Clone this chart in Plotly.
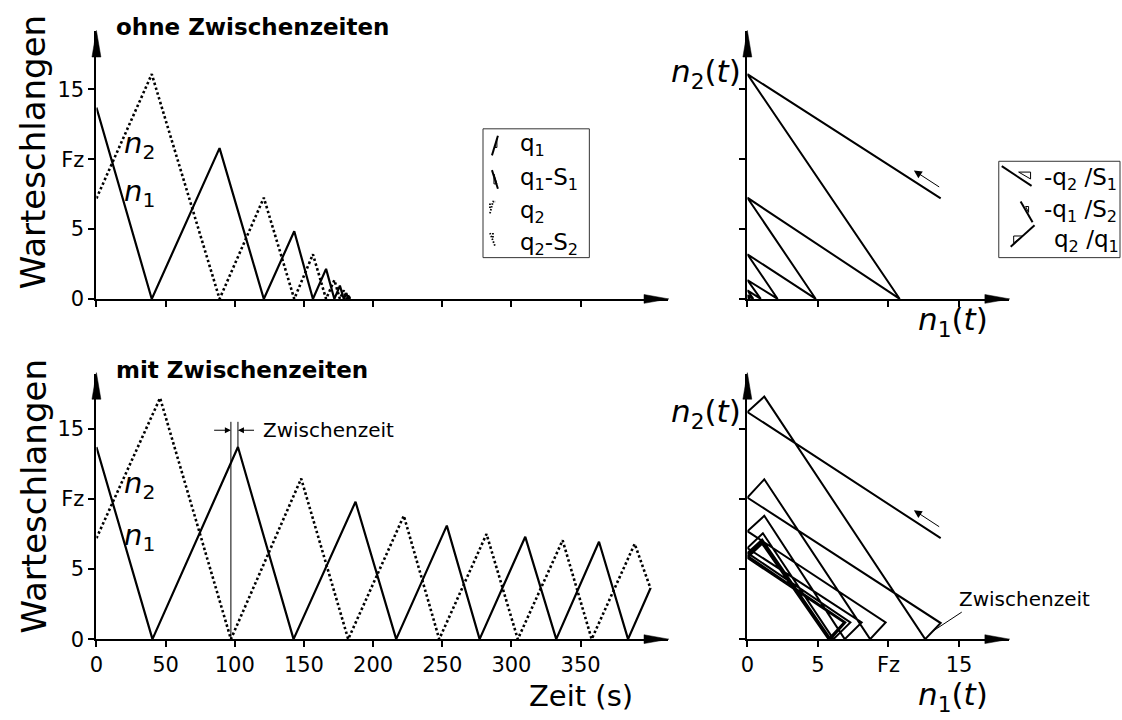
import plotly.graph_objects as go

W, H = 1122, 720
FONT = "DejaVu Sans"

# ---------------- data ----------------
# ohne Zwischenzeiten: switching instants (s), queues at those instants
t_top = [0, 40, 89, 121, 143, 156.5, 166, 172, 176, 178.8, 180.7, 181.9, 182.7, 183.3]
n1_top = [13.7, 0, 10.8, 0, 4.85, 0, 2.15, 0, 0.95, 0, 0.42, 0, 0.19, 0]
n2_top = [7.2, 16.1, 0, 7.25, 0, 3.2, 0, 1.35, 0, 0.62, 0, 0.27, 0, 0.12]

# mit Zwischenzeiten: vertices of each queue
t_n1_b = [0, 40.5, 102.3, 142.5, 187.3, 216.7, 253.3, 277, 310, 332.4, 363.3, 384.3, 400.6]
n1_b = [13.7, 0, 13.7, 0, 9.8, 0, 8.1, 0, 7.3, 0, 6.95, 0, 3.65]
t_n2_b = [0, 46, 97.2, 148, 182, 222.2, 247.8, 282, 304.6, 337, 358, 389.1, 400.6]
n2_b = [7.2, 17.2, 0, 11.45, 0, 8.8, 0, 7.5, 0, 7.05, 0, 6.8, 3.6]

# phase portrait with Zwischenzeiten (vertices n1, n2)
ph_n1 = [13.7, 0, 1.2, 12.6, 13.7, 0, 1.2, 8.7, 9.8, 0, 1.2, 6.9, 8.1, 0, 1.1, 6.1, 7.3,
         0, 1.05, 5.9, 6.95, 0, 1.05, 5.8, 6.9, 0, 1.05, 5.75, 6.85, 0, 1.05, 5.75, 6.85, 0]
ph_n2 = [7.2, 16.2, 17.3, 0, 1.15, 10.1, 11.4, 0, 1.2, 7.7, 8.8, 0, 1.2, 6.5, 7.55, 0, 1.2,
         6.15, 7.1, 0, 1.2, 5.95, 6.95, 0, 1.2, 5.85, 6.85, 0, 1.2, 5.8, 6.8, 0, 1.2, 5.8]

time_ticks = [0, 50, 100, 150, 200, 250, 300, 350]
time_ticklabels = ["0", "50", "100", "150", "200", "250", "300", "350"]
queue_ticks = [0, 5, 10, 15]
queue_ticklabels = ["0", "5", "Fz", "15"]

# ---------------- layout geometry (pixels) ----------------
def px(x):
    return x / W

def py(y):
    return 1 - y / H

X_LEFT = (90, 665)
X_RIGHT = (745, 1008)
Y_TOP = (304, 32)
Y_BOT = (650, 380)
TIME_MAX = (X_LEFT[1] - X_LEFT[0]) / 1.392
N1_MAX = (X_RIGHT[1] - X_RIGHT[0]) / 14.2
YTOP_MAX = (Y_TOP[0] - Y_TOP[1]) / 14.2
YBOT_MAX = (Y_BOT[0] - Y_BOT[1]) / 14.26

fig = go.Figure()

solid = dict(color="black", width=2.2)
dotted = dict(color="black", width=2.6, dash="2.5px,2.5px")

fig.add_trace(go.Scatter(x=t_top, y=n1_top, mode="lines", line=solid, xaxis="x", yaxis="y"))
fig.add_trace(go.Scatter(x=t_top, y=n2_top, mode="lines", line=dotted, xaxis="x", yaxis="y"))
fig.add_trace(go.Scatter(x=n1_top, y=n2_top, mode="lines", line=dict(color="black", width=2), xaxis="x2", yaxis="y2"))
fig.add_trace(go.Scatter(x=t_n1_b, y=n1_b, mode="lines", line=solid, xaxis="x3", yaxis="y3"))
fig.add_trace(go.Scatter(x=t_n2_b, y=n2_b, mode="lines", line=dotted, xaxis="x3", yaxis="y3"))
fig.add_trace(go.Scatter(x=ph_n1, y=ph_n2, mode="lines", line=dict(color="black", width=2), xaxis="x4", yaxis="y4"))

def axis(domain, rng, **kw):
    d = dict(domain=domain, range=rng, showline=True, linecolor="black", linewidth=2,
             ticks="outside", ticklen=6, tickwidth=2, tickcolor="black",
             showgrid=False, zeroline=False, fixedrange=True,
             tickfont=dict(family=FONT, size=21, color="black"))
    d.update(kw)
    return d

xl = [px(X_LEFT[0]), px(X_LEFT[1])]
xr = [px(X_RIGHT[0]), px(X_RIGHT[1])]
yt = [py(Y_TOP[0]), py(Y_TOP[1])]
yb = [py(Y_BOT[0]), py(Y_BOT[1])]

fig.update_layout(
    width=W, height=H, margin=dict(l=0, r=0, t=0, b=0),
    paper_bgcolor="white", plot_bgcolor="white", showlegend=False,
    font=dict(family=FONT, color="black"),
    xaxis=axis(xl, [0, TIME_MAX], anchor="y", tickvals=time_ticks, showticklabels=False),
    yaxis=axis(yt, [0, YTOP_MAX], anchor="x", tickvals=queue_ticks, ticktext=queue_ticklabels),
    xaxis2=axis(xr, [0, N1_MAX], anchor="y2", tickvals=queue_ticks, showticklabels=False),
    yaxis2=axis(yt, [0, YTOP_MAX], anchor="x2", tickvals=queue_ticks, showticklabels=False),
    xaxis3=axis(xl, [0, TIME_MAX], anchor="y3", tickvals=time_ticks, ticktext=time_ticklabels),
    yaxis3=axis(yb, [0, YBOT_MAX], anchor="x3", tickvals=queue_ticks, ticktext=queue_ticklabels),
    xaxis4=axis(xr, [0, N1_MAX], anchor="y4", tickvals=queue_ticks, ticktext=queue_ticklabels),
    yaxis4=axis(yb, [0, YBOT_MAX], anchor="x4", tickvals=queue_ticks, showticklabels=False),
)

ann = []
shapes = []

def path(points, close=False):
    s = "M" + " L".join("%.5f,%.5f" % (px(x), py(y)) for x, y in points)
    return s + (" Z" if close else "")

def pshape(points, width=1.5, close=False, dash=None, fill=None):
    ln = dict(color="black", width=width)
    if dash:
        ln["dash"] = dash
    d = dict(type="path", xref="paper", yref="paper", path=path(points, close), line=ln)
    if fill:
        d["fillcolor"] = fill
    shapes.append(d)

# axis arrowheads (long, narrow, filled)
for (x0, x1), (y0, y1) in [(X_LEFT, Y_TOP), (X_RIGHT, Y_TOP), (X_LEFT, Y_BOT), (X_RIGHT, Y_BOT)]:
    pshape([(x1 + 1, y0), (x1 - 24, y0 - 4.5), (x1 - 24, y0 + 4.5)], 0.5, close=True, fill="black")
    pshape([(x0, y1 - 1), (x0 - 4.5, y1 + 26), (x0 + 4.5, y1 + 26)], 0.5, close=True, fill="black")

def text(x, y, s, size=20, xanchor="left", yanchor="middle", **kw):
    d = dict(x=px(x), y=py(y), xref="paper", yref="paper", text=s, showarrow=False,
             xanchor=xanchor, yanchor=yanchor, font=dict(family=FONT, size=size, color="black"))
    d.update(kw)
    ann.append(d)

# titles
text(108, 27, "<b>ohne Zwischenzeiten</b>", size=23)
text(108, 376, "<b>mit Zwischenzeiten</b>", size=23)
# y titles
text(27, 155, "Warteschlangen", size=34, xanchor="center", textangle=-90)
text(27, 505, "Warteschlangen", size=34, xanchor="center", textangle=-90)
# x title
text(578, 708, "Zeit (s)", size=29, xanchor="center")

# curve labels
for xa, ya, y2, y1 in [("x", "y", 11.0, 7.6), ("x3", "y3", 11.0, 7.3)]:
    for yy, k in [(y2, "2"), (y1, "1")]:
        ann.append(dict(x=31, y=yy, xref=xa, yref=ya, text="<i>n</i><sub>%s</sub>" % k,
                        showarrow=False, xanchor="center", yanchor="middle",
                        font=dict(family=FONT, size=29, color="black")))

# phase axis labels
for ytxt_n2, ytxt_n1 in [(75, 327), (421, 708)]:
    text(741, ytxt_n2, "<i>n</i><sub>2</sub>(<i>t</i>)", size=31, xanchor="right")
    text(952, ytxt_n1, "<i>n</i><sub>1</sub>(<i>t</i>)", size=31, xanchor="center")

# direction arrows in phase portraits
for xa, ya in [("x2", "y2"), ("x4", "y4")]:
    ann.append(dict(x=11.8, y=9.2, ax=13.7, ay=7.95, xref=xa, yref=ya, axref=xa, ayref=ya,
                    text="", showarrow=True, arrowhead=2, arrowsize=1.6, arrowwidth=1,
                    arrowcolor="black", standoff=0))

# Zwischenzeit marker (time plot)
t_green_end = t_n2_b[2]
t_peak = t_n1_b[2]
marker_y = 14.9
shapes.append(dict(type="line", xref="x3", yref="y3", x0=t_green_end, x1=t_green_end, y0=0, y1=15.5,
                   line=dict(color="black", width=1)))
shapes.append(dict(type="line", xref="x3", yref="y3", x0=t_peak, x1=t_peak, y0=n1_b[2], y1=15.5,
                   line=dict(color="black", width=1)))
ann.append(dict(x=t_green_end, y=marker_y, ax=84, ay=marker_y, xref="x3", yref="y3", axref="x3", ayref="y3",
                text="", showarrow=True, arrowhead=2, arrowsize=1.2, arrowwidth=1, arrowcolor="black", standoff=0))
ann.append(dict(x=t_peak, y=marker_y, ax=115, ay=marker_y, xref="x3", yref="y3", axref="x3", ayref="y3",
                text="", showarrow=True, arrowhead=2, arrowsize=1.2, arrowwidth=1, arrowcolor="black", standoff=0))
ann.append(dict(x=119, y=marker_y, xref="x3", yref="y3", text="Zwischenzeit", showarrow=False,
                xanchor="left", yanchor="middle", font=dict(family=FONT, size=20, color="black")))

# Zwischenzeit leader (phase plot)
mx = (ph_n1[3] + ph_n1[4]) / 2
my = (ph_n2[3] + ph_n2[4]) / 2
ann.append(dict(x=mx, y=my, ax=15.3, ay=2.0, xref="x4", yref="y4", axref="x4", ayref="y4",
                text="", showarrow=True, arrowhead=0, arrowwidth=1, arrowcolor="black", standoff=0))
text(956, 609, "Zwischenzeit", size=20)

# ---------------- legends ----------------
# left legend box
shapes.append(dict(type="rect", xref="paper", yref="paper", x0=px(479), x1=px(586), y0=py(262), y1=py(131),
                   line=dict(color="#333333", width=1)))
leg_left = ["q<sub>1</sub>", "q<sub>1</sub>-S<sub>1</sub>", "q<sub>2</sub>", "q<sub>2</sub>-S<sub>2</sub>"]
for yy, s in zip([147, 182, 216, 248], leg_left):
    text(514, yy, s, size=23)
pshape([(488, 158), (494, 138)], 2)
pshape([(491, 150), (493, 141), (493, 150)], 1, close=True)
pshape([(488, 173), (494, 192)], 2)
pshape([(490, 177), (490, 187), (493, 187)], 1, close=True)
pshape([(486, 217), (489, 205), (492, 205)], 1.8, dash="1.5px,1.5px")
pshape([(486, 207), (486, 212)], 1.8, dash="1.5px,1.5px")
pshape([(486, 237), (491, 250)], 1.8, dash="1.5px,1.5px")
pshape([(489, 237), (489, 242)], 1.8, dash="1.5px,1.5px")

# right legend box
shapes.append(dict(type="rect", xref="paper", yref="paper", x0=px(998), x1=px(1120), y0=py(262), y1=py(164),
                   line=dict(color="#333333", width=1)))
leg_right = ["-q<sub>2</sub> /S<sub>1</sub>", "-q<sub>1</sub> /S<sub>2</sub>", "q<sub>2</sub> /q<sub>1</sub>"]
for yy, s, x0 in zip([182, 215, 245], leg_right, [1041, 1041, 1052]):
    text(x0, yy, s, size=23)
pshape([(1001, 169), (1031, 189)], 2)
pshape([(1018, 175), (1030, 175), (1030, 182)], 1, close=True)
pshape([(1020, 205), (1032, 226)], 2)
pshape([(1025, 210), (1028, 210), (1028, 216)], 1, close=True)
pshape([(1010, 251), (1034, 229)], 2)
pshape([(1013, 240), (1022, 240), (1013, 247)], 1, close=True)

fig.update_layout(annotations=ann, shapes=shapes)
fig.write_html("out.html", config={"displayModeBar": False},
               post_script="document.body.style.margin='0';document.body.style.overflow='hidden';")
